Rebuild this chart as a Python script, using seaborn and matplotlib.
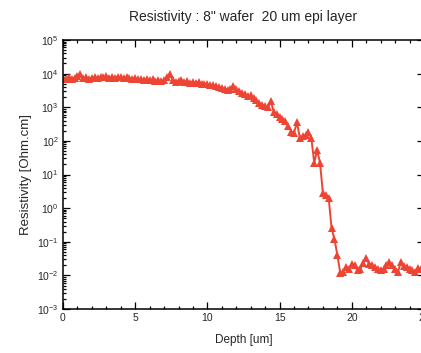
import numpy as np
import pandas as pd
import matplotlib
matplotlib.use("Agg")
import matplotlib.pyplot as plt
import matplotlib.ticker as mticker
import seaborn as sns

depth = [
    0.0, 0.2, 0.4, 0.6, 0.8, 1.0, 1.2, 1.4, 1.6, 1.8,
    2.0, 2.2, 2.4, 2.6, 2.8, 3.0, 3.2, 3.4, 3.6, 3.8,
    4.0, 4.2, 4.4, 4.6, 4.8, 5.0, 5.2, 5.4, 5.6, 5.8,
    6.0, 6.2, 6.4, 6.6, 6.8, 7.0, 7.2, 7.4, 7.6, 7.8,
    8.0, 8.2, 8.4, 8.6, 8.8, 9.0, 9.2, 9.4, 9.6, 9.8,
    10.0, 10.2, 10.4, 10.6, 10.8, 11.0, 11.2, 11.4, 11.6, 11.8,
    12.0, 12.2, 12.4, 12.6, 12.8, 13.0, 13.2, 13.4, 13.6, 13.8,
    14.0, 14.2, 14.4, 14.6, 14.8, 15.0, 15.2, 15.4, 15.6, 15.8,
    16.0, 16.2, 16.4, 16.6, 16.8, 17.0, 17.2, 17.4, 17.6, 17.8,
    18.0, 18.2, 18.4, 18.6, 18.8, 19.0, 19.2, 19.4, 19.6, 19.8,
    20.0, 20.2, 20.4, 20.6, 20.8, 21.0, 21.2, 21.4, 21.6, 21.8,
    22.0, 22.2, 22.4, 22.6, 22.8, 23.0, 23.2, 23.4, 23.6, 23.8,
    24.0, 24.2, 24.4, 24.6, 24.8, 25.0,
]

resistivity = [
    7500, 6800, 8200, 7000, 7600, 8500, 9500, 7200, 7800, 7000,
    7600, 8000, 7400, 8200, 7800, 8600, 7500, 8000, 7600, 8200,
    7700, 7200, 8000, 7400, 7000, 7300, 6800, 7100, 6600, 6900,
    6400, 6700, 6200, 6500, 6000, 6300, 7800, 9800, 6400, 5800,
    6200, 6600, 5700, 5900, 5400, 5700, 5200, 5500, 5000, 4800,
    4900, 4500, 4700, 4200, 4000, 3800, 3500, 3300, 3600, 4300,
    3400, 3000, 2700, 2500, 2100, 2300, 1900, 1600, 1300, 1200,
    1100, 1000, 1500, 700, 620, 500, 460, 400, 280, 190,
    170, 360, 125, 140, 150, 180, 120, 22, 54, 22,
    2.8, 2.4, 2.0, 0.25, 0.12, 0.04, 0.012, 0.013, 0.018, 0.015,
    0.022, 0.020, 0.014, 0.016, 0.024, 0.032, 0.022, 0.020, 0.018, 0.016,
    0.014, 0.015, 0.020, 0.025, 0.020, 0.016, 0.0126, 0.025, 0.019, 0.018,
    0.016, 0.014, 0.013, 0.017, 0.015, 0.016,
]

df = pd.DataFrame({"depth": depth, "resistivity": resistivity})

sns.set_style("ticks")
plt.rcParams["font.family"] = ["Liberation Sans", "DejaVu Sans"]
plt.rcParams["mathtext.fontset"] = "custom"
plt.rcParams["mathtext.rm"] = "Liberation Sans"
plt.rcParams["mathtext.it"] = "Liberation Sans"

fig = plt.figure(figsize=(4.21, 3.53), dpi=100)
ax = fig.add_axes([0.1496, 0.1246, 0.8575, 0.7621])

sns.lineplot(data=df, x="depth", y="resistivity", ax=ax, color="#ee4433",
             linewidth=1.4, marker="^", markersize=5.8, markeredgewidth=0)

ax.set_yscale("log")
ax.set_xlim(0, 25)
ax.set_ylim(1e-3, 1e5)

ax.xaxis.set_major_locator(mticker.MultipleLocator(5))
ax.xaxis.set_minor_locator(mticker.MultipleLocator(1))
ax.yaxis.set_major_locator(mticker.LogLocator(base=10, numticks=20))
ax.yaxis.set_minor_locator(mticker.LogLocator(base=10, subs=np.arange(2, 10), numticks=20))
ax.yaxis.set_minor_formatter(mticker.NullFormatter())

ax.tick_params(which="both", direction="in", top=True, right=True,
               labelsize=7.5, width=0.9, color="black", pad=3)
ax.tick_params(which="major", length=5)
ax.tick_params(which="minor", length=2.5)
for s in ax.spines.values():
    s.set_linewidth(1.1)
    s.set_color("black")

ax.set_title("Resistivity : 8\" wafer  20 um epi layer", fontsize=10, pad=14)
ax.set_xlabel("Depth [um]", fontsize=8.5, labelpad=8)
ax.set_ylabel("Resistivity [Ohm.cm]", fontsize=9.5, labelpad=4)

fig.savefig("out.png", dpi=100)
